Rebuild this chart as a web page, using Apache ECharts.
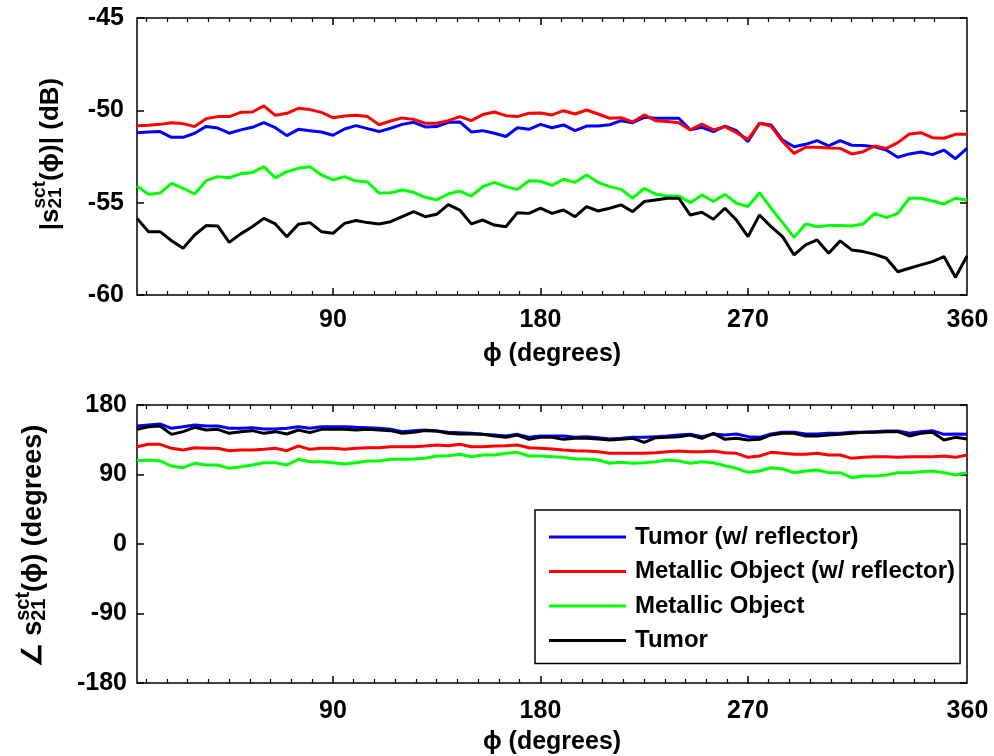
<!DOCTYPE html>
<html><head><meta charset="utf-8">
<script src="https://cdn.jsdelivr.net/npm/echarts@6/dist/echarts.min.js"></script>
<style>html,body{margin:0;padding:0;background:#fff}#c{width:994px;height:756px}</style>
</head><body><div id="c"></div>
<script>
// ---------- data ----------
const phi = [5,10,15,20,25,30,35,40,45,50,55,60,65,70,75,80,85,90,95,100,105,110,115,120,125,130,135,140,145,150,155,160,165,170,175,180,185,
  190,195,200,205,210,215,220,225,230,235,240,245,250,255,260,265,270,275,280,285,290,295,300,305,310,315,320,325,330,335,340,345,350,355,360,365];
const seriesNames = ['Tumor (w/ reflector)', 'Metallic Object (w/ reflector)', 'Metallic Object', 'Tumor'];

// |s21| (dB)
const magTumorRefl = [-51.21,-51.17,-51.15,-51.46,-51.46,-51.24,-50.87,-50.96,-51.24,-51.06,-50.92,-50.67,-50.94,-51.37,-51.03,-51.10,-51.17,-51.35,-51.01,-50.83,-50.99,-51.15,-50.97,-50.76,-50.65,-50.90,-50.88,-50.65,-50.63,-51.17,-51.10,-51.24,-51.42,-50.94,-51.03,-50.76,-50.94,
  -50.79,-51.10,-50.85,-50.85,-50.78,-50.56,-50.67,-50.38,-50.43,-50.43,-50.43,-51.06,-50.92,-51.15,-50.85,-51.10,-51.69,-50.70,-50.79,-51.61,-51.97,-51.84,-51.64,-51.93,-51.64,-51.89,-51.91,-51.97,-52.15,-52.54,-52.36,-52.26,-52.40,-52.15,-52.62,-52.06];
const magMetalRefl = [-50.83,-50.81,-50.76,-50.67,-50.72,-50.88,-50.45,-50.34,-50.34,-50.11,-50.09,-49.76,-50.27,-50.16,-49.89,-49.96,-50.11,-50.40,-50.31,-50.27,-50.34,-50.78,-50.58,-50.41,-50.49,-50.70,-50.70,-50.56,-50.34,-50.56,-50.23,-50.09,-50.29,-50.34,-50.16,-50.14,-50.25,
  -50.02,-50.20,-49.98,-50.20,-50.43,-50.40,-50.63,-50.25,-50.56,-50.61,-50.67,-51.06,-50.74,-51.06,-50.88,-51.21,-51.57,-50.70,-50.85,-51.69,-52.33,-52.00,-52.00,-52.04,-52.06,-52.36,-52.24,-51.93,-52.06,-51.75,-51.28,-51.21,-51.48,-51.51,-51.30,-51.30];
const magMetal = [-54.10,-54.55,-54.48,-53.95,-54.22,-54.53,-53.81,-53.59,-53.65,-53.43,-53.37,-53.05,-53.66,-53.32,-53.14,-53.05,-53.50,-53.77,-53.59,-53.83,-53.88,-54.48,-54.46,-54.31,-54.44,-54.71,-54.85,-54.53,-54.37,-54.64,-54.13,-53.90,-54.13,-54.28,-53.81,-53.84,-54.06,
  -53.73,-53.90,-53.50,-53.90,-54.13,-54.28,-54.76,-54.22,-54.55,-54.64,-54.64,-55.00,-54.58,-54.94,-54.55,-55.03,-55.21,-54.46,-55.30,-56.08,-56.88,-56.15,-56.30,-56.24,-56.24,-56.26,-56.15,-55.58,-55.81,-55.58,-54.76,-54.76,-54.91,-55.07,-54.76,-54.85];
const magTumor = [-55.85,-56.57,-56.57,-57.06,-57.47,-56.75,-56.24,-56.26,-57.15,-56.69,-56.30,-55.85,-56.15,-56.84,-56.17,-56.08,-56.57,-56.66,-56.12,-55.97,-56.08,-56.15,-56.03,-55.76,-55.49,-55.76,-55.63,-55.11,-55.40,-56.15,-55.94,-56.21,-56.30,-55.54,-55.58,-55.29,-55.58,
  -55.40,-55.76,-55.21,-55.45,-55.30,-55.12,-55.49,-54.94,-54.85,-54.76,-54.76,-55.67,-55.52,-55.90,-55.30,-55.94,-56.84,-55.67,-56.30,-56.84,-57.83,-57.29,-57.02,-57.74,-57.07,-57.56,-57.65,-57.80,-58.01,-58.74,-58.55,-58.37,-58.19,-57.92,-59.04,-57.89];

// angle s21 (degrees)
const phTumorRefl = [152.8,154.1,155.4,149.8,151.9,154.1,152.8,152.8,149.8,149.8,150.6,148.9,148.9,149.8,151.9,149.8,151.9,151.9,151.9,151.1,150.6,149.8,148.5,145.5,146.8,147.6,146.3,144.6,144.2,143.3,142.0,141.1,139.9,142.0,138.2,139.9,139.9,
  139.9,138.1,139.0,137.7,136.0,136.8,138.1,138.1,139.0,139.9,141.2,142.0,139.0,142.4,141.2,142.4,139.0,138.1,142.4,144.6,144.6,142.4,142.4,143.3,143.3,144.6,144.6,145.5,146.3,146.3,143.3,145.5,146.8,142.0,142.4,142.0];
const phMetalRefl = [126.0,129.1,129.1,123.9,121.7,124.7,123.9,123.9,120.8,121.7,121.7,122.6,123.9,120.8,126.9,122.6,123.9,123.9,122.6,123.9,124.7,124.7,126.0,126.0,126.0,126.9,128.2,127.3,129.1,126.0,126.0,126.9,127.3,128.2,124.7,123.9,123.0,
  121.7,120.9,120.4,119.6,117.4,117.4,117.4,117.4,118.3,119.6,120.4,119.6,119.6,120.4,118.3,117.4,112.2,114.0,118.7,117.4,116.1,116.1,117.4,115.3,115.3,110.9,112.2,113.1,113.1,112.2,113.1,113.1,113.1,114.0,112.2,115.3];
const phMetal = [107.9,108.8,107.5,101.0,98.8,104.5,102.3,102.3,98.0,100.1,102.3,105.3,105.3,102.3,109.7,106.6,106.6,105.3,103.6,105.3,107.5,107.5,109.7,109.7,110.1,111.0,114.0,114.4,116.2,113.1,115.3,115.3,117.5,118.7,114.0,114.0,113.1,
  112.2,110.1,110.1,108.8,104.5,105.8,104.5,105.3,106.6,108.8,107.5,104.5,106.6,105.3,101.4,98.0,92.8,94.5,98.8,97.1,92.4,94.5,95.8,92.4,92.4,85.9,88.1,88.1,89.3,92.4,92.4,93.7,94.5,92.4,89.3,92.4];
const phTumor = [148.5,151.9,152.8,142.0,145.5,151.1,147.6,148.5,143.3,145.5,146.8,143.3,145.5,142.5,147.6,144.2,148.5,148.5,148.5,147.6,148.5,147.6,146.8,143.3,144.6,146.8,146.3,143.3,142.5,142.5,142.0,139.9,138.2,141.1,135.6,138.2,138.2,
  135.5,136.8,136.8,136.0,134.7,135.5,136.8,131.7,137.7,138.1,139.0,141.2,136.8,143.3,135.5,136.8,134.7,135.5,141.2,143.3,143.3,139.9,139.9,141.2,142.0,143.3,144.6,144.6,145.5,145.5,139.9,143.3,144.6,134.7,138.1,136.0];

// ticks
const xLabelValues = [90, 180, 270, 360];
const xMajorTicks = [90, 180, 270];
const xMinorTicks = [9,18,27,36,45,54,63,72,81,99,108,117,126,135,144,153,162,171,189,198,207,216,225,234,243,252,261,279,288,297,306,315,324,333,342,351];
const magRange = [-60, -45], magStep = 5;
const phRange = [-180, 180], phStep = 90;

// ---------- styling ----------
const FONT = '"Liberation Sans", Arial, Helvetica, sans-serif';
const colors = ['#0000ff', '#ff0000', '#00ff00', '#000000'];
const chart = echarts.init(document.getElementById('c'), null, {renderer: 'canvas'});

const grids = [
  {left: 137, right: 27, top: 18, height: 277, show: true, borderColor: '#000', borderWidth: 1.5},
  {left: 137, right: 27, top: 405, height: 278, show: true, borderColor: '#000', borderWidth: 1.5}
];

const labelStyle = {fontFamily: FONT, fontWeight: 'bold', fontSize: 25, color: '#000'};

function xAxesFor(g, labelMargin, nameGap) {
  const base = {type: 'value', gridIndex: g, min: 5, max: 365, splitLine: {show: false},
    axisLine: {show: false, onZero: false}, offset: 0};
  return [
    Object.assign({}, base, {position: 'bottom',
      axisTick: {show: true, inside: true, length: 7, customValues: xMajorTicks, lineStyle: {color: '#000', width: 1.5}},
      axisLabel: Object.assign({show: true, margin: labelMargin, customValues: xLabelValues,
        formatter: v => v === 360 ? '{r|360}' : String(v),
        rich: {r: Object.assign({}, labelStyle, {padding: [0, 0, 0, 24]})}}, labelStyle),
      name: 'ϕ (degrees)', nameLocation: 'middle', nameGap: nameGap,
      nameTextStyle: {fontFamily: FONT, fontWeight: 'bold', fontSize: 25, color: '#000'}}),
    Object.assign({}, base, {position: 'bottom',
      axisTick: {show: true, inside: true, length: 4, customValues: xMinorTicks, lineStyle: {color: '#000', width: 1.2}},
      axisLabel: {show: false}}),
    Object.assign({}, base, {position: 'top',
      axisTick: {show: true, inside: true, length: 7, customValues: xMajorTicks, lineStyle: {color: '#000', width: 1.5}},
      axisLabel: {show: false}}),
    Object.assign({}, base, {position: 'top',
      axisTick: {show: true, inside: true, length: 4, customValues: xMinorTicks, lineStyle: {color: '#000', width: 1.2}},
      axisLabel: {show: false}})
  ];
}
function yAxesFor(g, range, step, margin) {
  const base = {type: 'value', gridIndex: g, min: range[0], max: range[1], interval: step,
    splitLine: {show: false}, axisLine: {show: false, onZero: false},
    axisTick: {show: true, inside: true, length: 7, lineStyle: {color: '#000', width: 1.5}}};
  return [
    Object.assign({}, base, {position: 'left', axisLabel: Object.assign({margin: margin}, labelStyle)}),
    Object.assign({}, base, {position: 'right', axisLabel: {show: false}})
  ];
}

const xAxis = xAxesFor(0, 13, 47).concat(xAxesFor(1, 16, 47));          // 0..3 grid0, 4..7 grid1
const yAxis = yAxesFor(0, magRange, magStep, 13).concat(yAxesFor(1, phRange, phStep, 10)); // 0,1 grid0 ; 2,3 grid1

function pairs(vals) { return phi.map((p, i) => [p, vals[i]]); }
const magSets = [magTumorRefl, magMetalRefl, magMetal, magTumor];
const phSets = [phTumorRefl, phMetalRefl, phMetal, phTumor];
const series = [];
magSets.forEach((d, i) => series.push({type: 'line', name: seriesNames[i], xAxisIndex: 0, yAxisIndex: 0,
  data: pairs(d), symbol: 'none', showSymbol: false, color: colors[i], lineStyle: {width: 3, color: colors[i]}, z: 2 + i}));
phSets.forEach((d, i) => series.push({type: 'line', name: seriesNames[i], xAxisIndex: 4, yAxisIndex: 2,
  data: pairs(d), symbol: 'none', showSymbol: false, color: colors[i], lineStyle: {width: 3, color: colors[i]}, z: 2 + i}));

// ---------- rotated y-axis titles with super/subscripts ----------
const ctx = document.createElement('canvas').getContext('2d');
function tw(t, size) { ctx.font = 'bold ' + size + 'px ' + FONT; return ctx.measureText(t).width; }
function yTitle(cx, cy, pre, post, big, small, supDy, subDy) {
  const w1 = tw(pre, big), ws = Math.max(tw('sct', small), tw('21', small)), w2 = tw(post, big);
  const x0 = -(w1 + ws + w2) / 2;
  const st = (t, s) => ({text: t, fontFamily: FONT, fontWeight: 'bold', fontSize: s, fill: '#000', align: 'left', verticalAlign: 'middle'});
  return {type: 'group', x: cx, y: cy, rotation: Math.PI / 2, children: [
    {type: 'text', x: x0, y: 0, style: st(pre, big)},
    {type: 'text', x: x0 + w1, y: supDy, style: st('sct', small)},
    {type: 'text', x: x0 + w1, y: subDy, style: st('21', small)},
    {type: 'text', x: x0 + w1 + ws, y: 0, style: st(post, big)}
  ]};
}

chart.setOption({
  animation: false,
  backgroundColor: '#fff',
  grid: grids,
  xAxis: xAxis,
  yAxis: yAxis,
  legend: {
    data: seriesNames, orient: 'vertical', left: 535, top: 510,
    padding: [15, 5, 11, 14], itemWidth: 77, itemHeight: 3, itemGap: 10.5, icon: 'rect',
    backgroundColor: '#fff', borderColor: '#000', borderWidth: 1.5,
    textStyle: {fontFamily: FONT, fontWeight: 'bold', fontSize: 24, color: '#000', padding: [0, 0, 0, 4]},
    selectedMode: false
  },
  graphic: [
    yTitle(51, 154, '|s', '(ϕ)| (dB)', 26, 19, -11, 5),
    yTitle(34, 546, '∠ s', '(ϕ) (degrees)', 27, 20, -11, 5)
  ],
  series: series
});
</script>
</body></html>
